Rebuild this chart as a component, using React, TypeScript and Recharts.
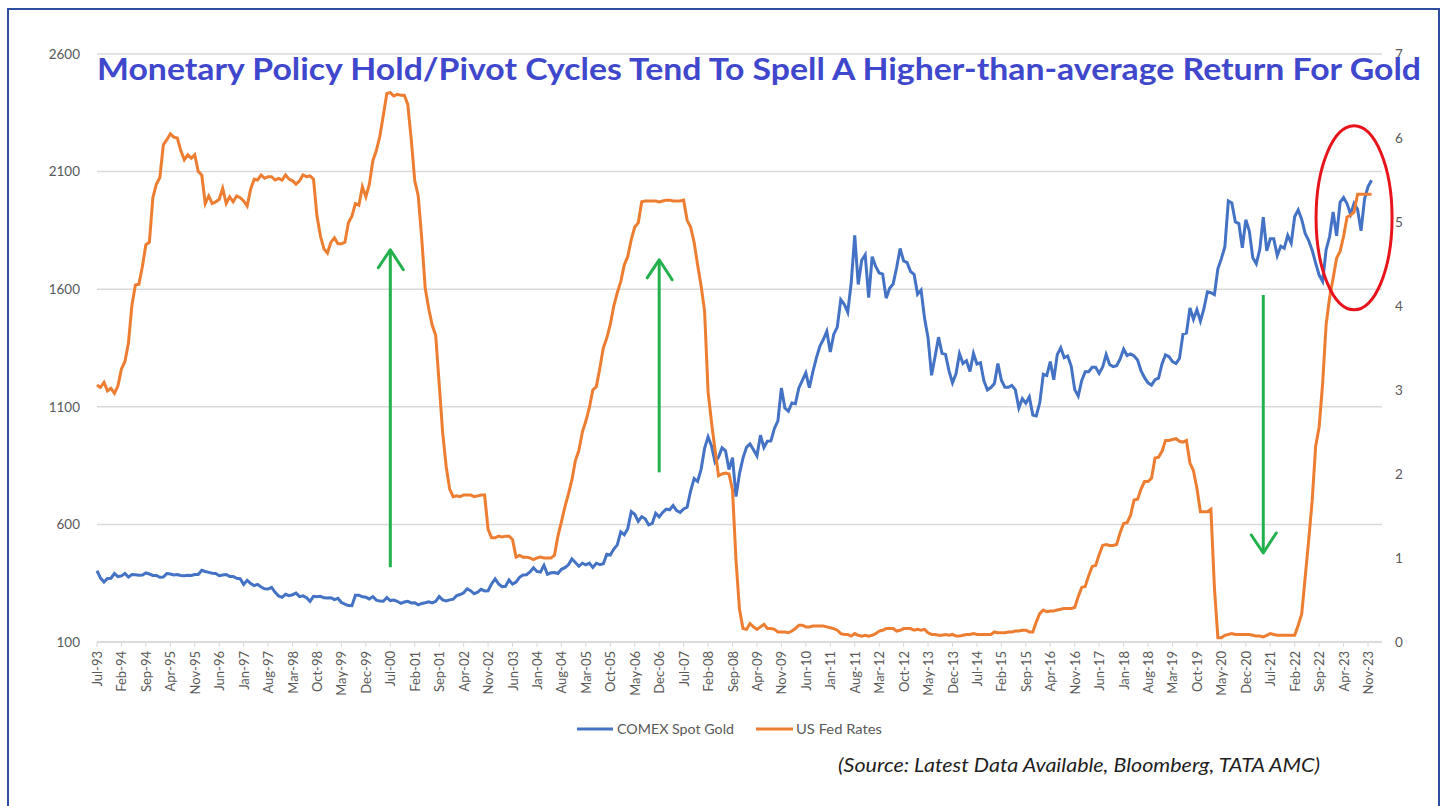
import { LineChart, Line, XAxis, YAxis, CartesianGrid, ReferenceLine, ReferenceDot } from 'recharts';

const MONTH_NAMES = ['Jan', 'Feb', 'Mar', 'Apr', 'May', 'Jun', 'Jul', 'Aug', 'Sep', 'Oct', 'Nov', 'Dec'];
const START_YEAR = 1993;
const START_MONTH = 6; // Jul
const TOTAL_MONTHS = 369; // axis runs a little past the last data point

// COMEX spot gold, monthly from Jul-93 (USD/oz)
const GOLD = [
    403, 372, 355, 370, 371, 391,
    378, 381, 391, 376, 387, 386, 384, 385, 394, 389, 383, 383,
    375, 376, 391, 389, 385, 387, 383, 382, 384, 383, 387, 387,
    405, 400, 396, 392, 391, 382, 385, 387, 379, 379, 371, 369,
    345, 362, 349, 340, 345, 334, 326, 325, 332, 311, 296, 290,
    303, 297, 301, 308, 293, 296, 288, 273, 294, 292, 294, 288,
    287, 288, 280, 286, 268, 261, 255, 254, 299, 299, 292, 290,
    283, 293, 278, 274, 273, 289, 276, 278, 273, 264, 270, 273,
    266, 267, 258, 264, 267, 271, 266, 273, 293, 279, 275, 279,
    282, 297, 302, 309, 326, 318, 305, 312, 324, 317, 318, 347,
    368, 347, 335, 337, 364, 346, 355, 375, 385, 386, 398, 416,
    400, 397, 426, 388, 394, 395, 391, 409, 416, 428, 453, 438,
    422, 435, 428, 435, 417, 435, 429, 433, 473, 470, 495, 513,
    568, 556, 582, 654, 643, 613, 633, 624, 598, 604, 647, 632,
    651, 665, 662, 680, 659, 651, 666, 673, 742, 795, 783, 834,
    923, 972, 933, 865, 886, 926, 913, 833, 884, 718, 816, 882,
    928, 942, 917, 891, 979, 927, 954, 955, 1008, 1040, 1180, 1095,
    1081, 1116, 1113, 1180, 1212, 1244, 1181, 1248, 1307, 1357, 1386, 1421,
    1333, 1409, 1439, 1556, 1536, 1502, 1628, 1829, 1620, 1723, 1746, 1564,
    1738, 1697, 1669, 1664, 1562, 1604, 1622, 1692, 1773, 1720, 1713, 1675,
    1663, 1578, 1596, 1476, 1393, 1234, 1313, 1396, 1327, 1323, 1253, 1202,
    1240, 1326, 1284, 1296, 1250, 1327, 1282, 1287, 1210, 1172, 1182, 1199,
    1284, 1213, 1183, 1183, 1191, 1172, 1095, 1135, 1115, 1142, 1065, 1061,
    1118, 1238, 1233, 1292, 1215, 1322, 1351, 1309, 1316, 1272, 1173, 1146,
    1211, 1249, 1249, 1268, 1268, 1242, 1269, 1322, 1280, 1271, 1275, 1303,
    1345, 1318, 1325, 1316, 1299, 1253, 1224, 1202, 1192, 1215, 1222, 1282,
    1321, 1313, 1292, 1284, 1306, 1409, 1413, 1520, 1472, 1513, 1464, 1517,
    1589, 1585, 1577, 1687, 1730, 1781, 1975, 1967, 1886, 1879, 1776, 1895,
    1847, 1734, 1708, 1769, 1906, 1763, 1814, 1814, 1743, 1783, 1774, 1829,
    1796, 1909, 1937, 1897, 1837, 1807, 1766, 1711, 1660, 1633, 1768, 1824,
    1928, 1827, 1969, 1990, 1963, 1919, 1965, 1940, 1848, 1983, 2036, 2063,
];

// US Fed rates, monthly from Jul-93 (%)
const FED = [
    3.06, 3.03, 3.09, 2.99, 3.02, 2.96,
    3.05, 3.25, 3.34, 3.56, 4.01, 4.25, 4.26, 4.47, 4.73, 4.76, 5.29, 5.45,
    5.53, 5.92, 5.98, 6.05, 6.01, 6.0, 5.85, 5.74, 5.8, 5.76, 5.8, 5.6,
    5.56, 5.22, 5.31, 5.22, 5.24, 5.27, 5.4, 5.22, 5.3, 5.24, 5.31, 5.29,
    5.25, 5.19, 5.39, 5.51, 5.5, 5.56, 5.52, 5.54, 5.54, 5.5, 5.52, 5.5,
    5.56, 5.51, 5.49, 5.45, 5.49, 5.56, 5.54, 5.55, 5.51, 5.07, 4.83, 4.68,
    4.63, 4.76, 4.81, 4.74, 4.74, 4.76, 4.99, 5.07, 5.22, 5.2, 5.42, 5.3,
    5.45, 5.73, 5.85, 6.02, 6.27, 6.53, 6.54, 6.5, 6.52, 6.51, 6.51, 6.4,
    5.98, 5.49, 5.31, 4.8, 4.21, 3.97, 3.77, 3.65, 3.07, 2.49, 2.09, 1.82,
    1.73, 1.74, 1.73, 1.75, 1.75, 1.75, 1.73, 1.74, 1.75, 1.75, 1.34, 1.24,
    1.24, 1.26, 1.25, 1.26, 1.26, 1.22, 1.01, 1.03, 1.01, 1.01, 1.0, 0.98,
    1.0, 1.01, 1.0, 1.0, 1.0, 1.03, 1.26, 1.43, 1.61, 1.76, 1.93, 2.16,
    2.28, 2.5, 2.63, 2.79, 3.0, 3.04, 3.26, 3.5, 3.62, 3.78, 4.0, 4.16,
    4.29, 4.49, 4.59, 4.79, 4.94, 4.99, 5.24, 5.25, 5.25, 5.25, 5.25, 5.24,
    5.25, 5.26, 5.26, 5.25, 5.25, 5.25, 5.26, 5.02, 4.94, 4.76, 4.49, 4.24,
    3.94, 2.98, 2.61, 2.28, 1.98, 2.0, 2.01, 2.0, 1.81, 0.97, 0.39, 0.16,
    0.15, 0.22, 0.18, 0.15, 0.18, 0.21, 0.16, 0.16, 0.15, 0.12, 0.12, 0.12,
    0.11, 0.13, 0.16, 0.2, 0.2, 0.18, 0.18, 0.19, 0.19, 0.19, 0.19, 0.18,
    0.17, 0.16, 0.14, 0.1, 0.09, 0.09, 0.07, 0.1, 0.08, 0.07, 0.08, 0.07,
    0.08, 0.1, 0.13, 0.14, 0.16, 0.16, 0.16, 0.13, 0.14, 0.16, 0.16, 0.16,
    0.14, 0.15, 0.14, 0.15, 0.11, 0.09, 0.09, 0.08, 0.08, 0.09, 0.08, 0.09,
    0.07, 0.07, 0.08, 0.09, 0.09, 0.1, 0.09, 0.09, 0.09, 0.09, 0.09, 0.12,
    0.11, 0.11, 0.11, 0.12, 0.12, 0.13, 0.13, 0.14, 0.14, 0.12, 0.12, 0.24,
    0.34, 0.38, 0.36, 0.37, 0.37, 0.38, 0.39, 0.4, 0.4, 0.4, 0.41, 0.54,
    0.65, 0.66, 0.79, 0.9, 0.91, 1.04, 1.15, 1.16, 1.15, 1.15, 1.16, 1.3,
    1.41, 1.42, 1.51, 1.69, 1.7, 1.82, 1.91, 1.91, 1.95, 2.19, 2.2, 2.27,
    2.4, 2.4, 2.41, 2.42, 2.39, 2.38, 2.4, 2.13, 2.04, 1.83, 1.55, 1.55,
    1.55, 1.58, 0.65, 0.05, 0.05, 0.08, 0.09, 0.1, 0.09, 0.09, 0.09, 0.09,
    0.09, 0.08, 0.07, 0.07, 0.06, 0.08, 0.1, 0.09, 0.08, 0.08, 0.08, 0.08,
    0.08, 0.08, 0.2, 0.33, 0.77, 1.21, 1.68, 2.33, 2.56, 3.08, 3.78, 4.1,
    4.33, 4.57, 4.65, 4.83, 5.06, 5.08, 5.12, 5.33, 5.33, 5.33, 5.33, 5.33,
];

const X_TICKS = [
    'Jul-93', 'Feb-94', 'Sep-94', 'Apr-95', 'Nov-95', 'Jun-96', 'Jan-97', 'Aug-97', 'Mar-98', 'Oct-98',
    'May-99', 'Dec-99', 'Jul-00', 'Feb-01', 'Sep-01', 'Apr-02', 'Nov-02', 'Jun-03', 'Jan-04', 'Aug-04',
    'Mar-05', 'Oct-05', 'May-06', 'Dec-06', 'Jul-07', 'Feb-08', 'Sep-08', 'Apr-09', 'Nov-09', 'Jun-10',
    'Jan-11', 'Aug-11', 'Mar-12', 'Oct-12', 'May-13', 'Dec-13', 'Jul-14', 'Feb-15', 'Sep-15', 'Apr-16',
    'Nov-16', 'Jun-17', 'Jan-18', 'Aug-18', 'Mar-19', 'Oct-19', 'May-20', 'Dec-20', 'Jul-21', 'Feb-22',
    'Sep-22', 'Apr-23', 'Nov-23',
];
const LEFT_TICKS = [100, 600, 1100, 1600, 2100, 2600];
const RIGHT_TICKS = [0, 1, 2, 3, 4, 5, 6, 7];

// annotations (right-axis units)
const ARROWS = [
    { month: 'Jul-00', from: 0.89, to: 4.67 },
    { month: 'Dec-06', from: 2.02, to: 4.55 },
    { month: 'May-21', from: 4.13, to: 1.06 },
];
const CIRCLE = { month: 'Jul-23', value: 5.05 };

const monthLabel = (i: number) => {
    const m = START_MONTH + i;
    const y = START_YEAR + Math.floor(m / 12);
    return `${MONTH_NAMES[m % 12]}-${String(y % 100).padStart(2, '0')}`;
};

const data = Array.from({ length: TOTAL_MONTHS }, (_, i) => ({
    month: monthLabel(i),
    gold: i < GOLD.length ? GOLD[i] : null,
    fed: i < FED.length ? FED[i] : null,
}));

const FONT = 'Lato, "Open Sans", sans-serif';
const GREY = '#595959';
const GREEN = '#22B14C';

const MonthTick = ({ x, y, payload }: any) => (
    <text
        x={0}
        y={0}
        transform={`translate(${x},${y}) rotate(-90)`}
        textAnchor="end"
        dominantBaseline="central"
        fontSize={13}
        fontFamily={FONT}
        fill={GREY}
    >
        {payload.value}
    </text>
);

const arrowShape = (props: any) => {
    const { x1, y1, x2, y2 } = props;
    const dir = y2 < y1 ? 1 : -1;
    return (
        <g>
            <line x1={x1} y1={y1} x2={x2} y2={y2} stroke={GREEN} strokeWidth={3} />
            <polyline
                points={`${x2 - 12},${y2 + dir * 18} ${x2},${y2} ${x2 + 13},${y2 + dir * 20}`}
                fill="none"
                stroke={GREEN}
                strokeWidth={3}
                strokeLinecap="round"
                strokeLinejoin="round"
            />
        </g>
    );
};

const ellipseShape = (props: any) => (
    <ellipse cx={props.cx} cy={props.cy} rx={38} ry={92} fill="none" stroke="#E8141C" strokeWidth={3} />
);

export default function App() {
    return (
        <div style={{ position: 'fixed', left: 0, top: 0, width: 1443, height: 806, background: '#fff', overflow: 'hidden' }}>
            <div
                style={{
                    position: 'absolute', left: 7, top: 8, width: 1433, height: 900,
                    border: '2px solid #2E4E9E', boxSizing: 'border-box',
                }}
            />
            <div style={{ position: 'absolute', left: 0, top: 0 }}>
                <LineChart width={1443} height={806} data={data} margin={{ top: 54, right: 21, bottom: 104, left: 37 }}>
                    <CartesianGrid yAxisId="left" vertical={false} stroke="#D9D9D9" strokeWidth={1.5} />
                    <XAxis
                        dataKey="month"
                        ticks={X_TICKS}
                        interval={0}
                        tick={<MonthTick />}
                        tickSize={5}
                        tickMargin={4}
                        tickLine={{ stroke: '#D9D9D9' }}
                        axisLine={{ stroke: '#D9D9D9', strokeWidth: 1.5 }}
                        height={60}
                    />
                    <YAxis
                        yAxisId="left"
                        domain={[100, 2600]}
                        ticks={LEFT_TICKS}
                        width={60}
                        axisLine={false}
                        tickLine={false}
                        tickSize={0}
                        tickMargin={17}
                        tick={{ fill: GREY, fontSize: 13.5, fontFamily: FONT }}
                    />
                    <YAxis
                        yAxisId="right"
                        orientation="right"
                        domain={[0, 7]}
                        ticks={RIGHT_TICKS}
                        width={40}
                        axisLine={false}
                        tickLine={false}
                        tickSize={0}
                        tickMargin={13}
                        tick={{ fill: GREY, fontSize: 13.5, fontFamily: FONT }}
                    />
                    <Line
                        yAxisId="left"
                        type="linear"
                        dataKey="gold"
                        name="COMEX Spot Gold"
                        stroke="#4472C4"
                        strokeWidth={3}
                        dot={false}
                        isAnimationActive={false}
                    />
                    <Line
                        yAxisId="right"
                        type="linear"
                        dataKey="fed"
                        name="US Fed Rates"
                        stroke="#ED7D31"
                        strokeWidth={3}
                        dot={false}
                        isAnimationActive={false}
                    />
                    {ARROWS.map((a) => (
                        <ReferenceLine
                            key={a.month}
                            yAxisId="right"
                            segment={[{ x: a.month, y: a.from }, { x: a.month, y: a.to }]}
                            shape={arrowShape}
                        />
                    ))}
                    <ReferenceDot yAxisId="right" x={CIRCLE.month} y={CIRCLE.value} shape={ellipseShape} />
                </LineChart>
            </div>
            <svg width={1443} height={806} style={{ position: 'absolute', left: 0, top: 0, pointerEvents: 'none' }}>
                <text
                    x={97}
                    y={80}
                    fontSize={31}
                    fontWeight={700}
                    fontFamily={FONT}
                    fill="#3F48CC"
                    textLength={1324}
                    lengthAdjust="spacingAndGlyphs"
                >
                    Monetary Policy Hold/Pivot Cycles Tend To Spell A Higher-than-average Return For Gold
                </text>
                <line x1={577} y1={729} x2={613} y2={729} stroke="#4472C4" strokeWidth={3} />
                <text x={617} y={734} fontSize={13.5} fontFamily={FONT} fill={GREY} textLength={117} lengthAdjust="spacingAndGlyphs">
                    COMEX Spot Gold
                </text>
                <line x1={756} y1={729} x2={793} y2={729} stroke="#ED7D31" strokeWidth={3} />
                <text x={796} y={734} fontSize={13.5} fontFamily={FONT} fill={GREY} textLength={86} lengthAdjust="spacingAndGlyphs">
                    US Fed Rates
                </text>
                <text
                    x={838}
                    y={772}
                    fontSize={20}
                    fontStyle="italic"
                    fontFamily={FONT}
                    fill="#1F1F1F"
                    textLength={482}
                    lengthAdjust="spacingAndGlyphs"
                >
                    (Source: Latest Data Available, Bloomberg, TATA AMC)
                </text>
            </svg>
        </div>
    );
}
